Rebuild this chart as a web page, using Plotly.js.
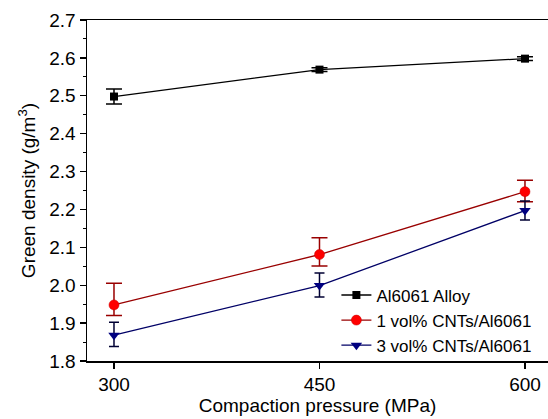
<!DOCTYPE html>
<html>
<head>
<meta charset="utf-8">
<script src="https://cdn.plot.ly/plotly-3.0.1.min.js"></script>
<style>html,body{margin:0;padding:0;background:#fff;}#chart{width:548px;height:419px;}</style>
</head>
<body>
<div id="chart"></div>
<script>
const pressure = [300, 450, 600];
const tickLabels = ['300', '450', '600'];

const alloyName = 'Al6061 Alloy';
const alloyDensity = [2.498, 2.569, 2.598];
const alloyErr = [0.02, 0.005, 0.005];

const cnt1Name = '1 vol% CNTs/Al6061';
const cnt1Density = [1.948, 2.081, 2.247];
const cnt1ErrPlus = [0.057, 0.044, 0.03];
const cnt1ErrMinus = [0.028, 0.03, 0.027];

const cnt3Name = '3 vol% CNTs/Al6061';
const cnt3Density = [1.868, 1.999, 2.197];
const cnt3ErrPlus = [0.034, 0.033, 0.025];
const cnt3ErrMinus = [0.03, 0.03, 0.025];

const traces = [
  {
    x: pressure, y: alloyDensity, name: alloyName, type: 'scatter', mode: 'lines+markers',
    line: {color: '#000000', width: 1.3},
    marker: {symbol: 'square', size: 8, color: '#000000'},
    error_y: {type: 'data', array: alloyErr, visible: true, color: '#000000', thickness: 1.5, width: 8}
  },
  {
    x: pressure, y: cnt1Density, name: cnt1Name, type: 'scatter', mode: 'lines+markers',
    line: {color: '#990000', width: 1.3},
    marker: {symbol: 'circle', size: 10, color: '#ff0000', line: {color: '#cc0000', width: 0.5}},
    error_y: {type: 'data', symmetric: false, array: cnt1ErrPlus, arrayminus: cnt1ErrMinus, visible: true, color: '#990000', thickness: 1.5, width: 8}
  },
  {
    x: pressure, y: cnt3Density, name: cnt3Name, type: 'scatter', mode: 'lines+markers',
    line: {color: '#000066', width: 1.3},
    marker: {symbol: 'triangle-down', size: 10, color: '#000080'},
    error_y: {type: 'data', symmetric: false, array: cnt3ErrPlus, arrayminus: cnt3ErrMinus, visible: true, color: '#000033', thickness: 1.5, width: 5}
  }
];

const fontFam = 'Liberation Sans, Arial, sans-serif';

const layout = {
  width: 548, height: 419,
  margin: {l: 87, r: 0, t: 20, b: 58},
  paper_bgcolor: '#ffffff', plot_bgcolor: '#ffffff',
  font: {family: fontFam, color: '#000000', size: 18},
  showlegend: true,
  legend: {
    x: 0.541, y: 0.245, xanchor: 'left', yanchor: 'top',
    bgcolor: 'rgba(0,0,0,0)', borderwidth: 0,
    font: {family: fontFam, size: 17, color: '#000000'},
    tracegroupgap: 0, itemwidth: 30
  },
  xaxis: {
    range: [280.3, 616.8],
    tickmode: 'array', tickvals: pressure, ticktext: tickLabels,
    ticks: 'outside', ticklen: 6, tickwidth: 1.3, tickcolor: '#000',
    showline: true, linecolor: '#000', linewidth: 1.5, mirror: true,
    showgrid: false, zeroline: false,
    tickfont: {family: fontFam, size: 19, color: '#000'},
    title: {text: 'Compaction pressure (MPa)', font: {family: fontFam, size: 19, color: '#000'}, standoff: 4}
  },
  yaxis: {
    range: [1.8, 2.7],
    tickmode: 'linear', tick0: 1.8, dtick: 0.1, tickformat: '.1f',
    ticks: 'outside', ticklen: 6, tickwidth: 1.3, tickcolor: '#000',
    minor: {ticks: 'outside', ticklen: 3, dtick: 0.05, tickcolor: '#000', tickwidth: 1},
    showline: true, linecolor: '#000', linewidth: 1.5, mirror: false,
    showgrid: false, zeroline: false,
    tickfont: {family: fontFam, size: 19, color: '#000'},
    title: {text: 'Green density (g/m<sup>3</sup>)', font: {family: fontFam, size: 19, color: '#000'}, standoff: 8}
  }
};

Plotly.newPlot('chart', traces, layout, {displayModeBar: false, staticPlot: true});
</script>
</body>
</html>
